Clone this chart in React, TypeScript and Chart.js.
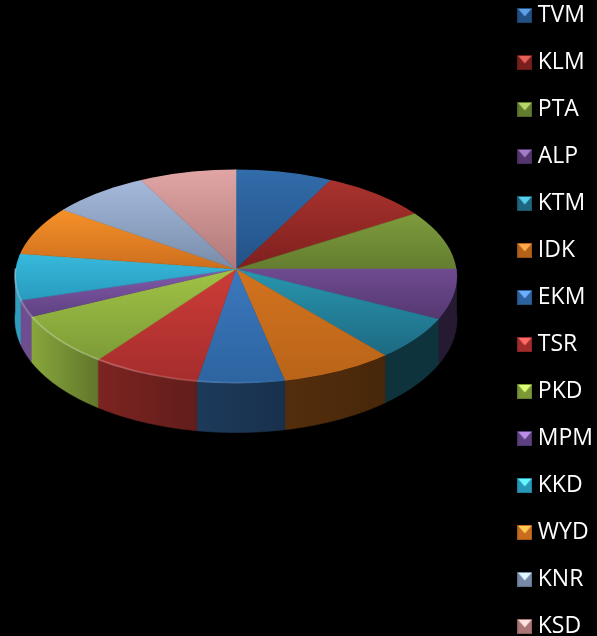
import React, { useEffect, useRef } from "react";
import { Chart, registerables } from "chart.js";

Chart.register(...registerables);

const categories = ["TVM", "KLM", "PTA", "ALP", "KTM", "IDK", "EKM", "TSR", "PKD", "MPM", "KKD", "WYD", "KNR", "KSD"];
const shares = [7.1, 8.3, 9.6, 7.2, 6.3, 8.0, 6.3, 7.7, 7.7, 2.4, 6.9, 7.9, 7.5, 7.1];

const lightColors = [
  [50, 108, 170], [170, 50, 45], [125, 155, 60], [110, 75, 145], [40, 150, 175], [210, 115, 30], [60, 120, 190],
  [205, 60, 55], [160, 195, 70], [130, 90, 170], [55, 185, 220], [245, 145, 40], [165, 185, 220], [225, 165, 165],
];
const darkColors = [
  [34, 82, 135], [125, 32, 30], [100, 125, 48], [85, 55, 112], [30, 105, 130], [185, 100, 25], [45, 100, 160],
  [165, 45, 45], [125, 155, 55], [95, 65, 130], [40, 155, 190], [205, 110, 30], [120, 140, 170], [175, 120, 120],
];
const sideStops = [[15, 0.85], [32, 0.85], [100, 0.6], [197, 0.48], [286, 0.4], [385, 0.34], [457, 0.34]];

// apex of the slices and the foreshortening either side of it
const CX = 236, CY = 269, RX = 221, RY_BACK = 99, RY_FRONT = 113;
// outline of the top face (the perspective ellipse sits lower than the apex)
const EY = 276.5, EX_R = 221, EY_R = 107;
const OVER = 1.1;
const DEPTH_SIDE = 42, DEPTH_FRONT = 49;
const W = 597, H = 700;

const rgb = (c: number[], f = 1, add = 0) =>
  `rgb(${c.map((v) => Math.min(255, Math.round(v * f + add))).join(",")})`;

const rimPoint = (a: number) => {
  const s = Math.sin(a);
  const dx = RX * Math.cos(a);
  const dy = (s > 0 ? RY_FRONT : RY_BACK) * s;
  const off = CY - EY;
  const A = (dx * dx) / (EX_R * EX_R) + (dy * dy) / (EY_R * EY_R);
  const B = (2 * dy * off) / (EY_R * EY_R);
  const C = (off * off) / (EY_R * EY_R) - 1;
  const t = (-B + Math.sqrt(B * B - 4 * A * C)) / (2 * A);
  return [CX + t * dx, CY + t * dy];
};
const depthAt = (a: number) => DEPTH_SIDE + (DEPTH_FRONT - DEPTH_SIDE) * Math.max(0, Math.sin(a));

function makeIcon(i: number) {
  const c = document.createElement("canvas");
  c.width = 15;
  c.height = 15;
  const g = c.getContext("2d")!;
  const l = lightColors[i], d = darkColors[i];
  g.fillStyle = rgb(d, 0.98);
  g.fillRect(0, 0, 15, 15);
  g.fillStyle = rgb(d, 0.8);
  g.fillRect(0, 0, 1, 15);
  g.fillRect(14, 0, 1, 15);
  g.fillRect(0, 14, 15, 1);
  g.fillStyle = rgb(l, 1.12, 40);
  g.beginPath();
  g.moveTo(1, 1);
  g.lineTo(14, 1);
  g.lineTo(7.5, 8.5);
  g.closePath();
  g.fill();
  return c;
}

const pie3d = {
  id: "pie3d",
  afterLayout(chart: any) {
    chart.legend.top = -20;
    chart.legend.left += 56;
    chart.legend.right += 56;
  },
  beforeDraw(chart: any) {
    const ctx = chart.ctx;
    ctx.save();
    ctx.fillStyle = "#000";
    ctx.fillRect(0, 0, W, H);
    ctx.restore();
  },
  beforeDatasetsDraw(chart: any) {
    const ctx: CanvasRenderingContext2D = chart.ctx;
    const arcs: any[] = chart.getDatasetMeta(0).data;

    // extruded wall
    arcs.forEach((el, i) => {
      const lo = Math.max(el.startAngle, 0);
      const hi = Math.min(el.endAngle, Math.PI);
      if (hi <= lo) return;
      const n = 40;
      const top: number[][] = [];
      for (let k = 0; k <= n; k++) top.push(rimPoint(lo + ((hi - lo) * k) / n));
      const grad = ctx.createLinearGradient(0, 0, W, 0);
      sideStops.forEach(([x, f]) => grad.addColorStop(x / W, rgb(lightColors[i], f)));
      ctx.beginPath();
      top.forEach((p, k) => (k ? ctx.lineTo(p[0], p[1]) : ctx.moveTo(p[0], p[1])));
      for (let k = n; k >= 0; k--) {
        const a = lo + ((hi - lo) * k) / n;
        const p = top[k];
        ctx.lineTo(p[0], p[1] + depthAt(a));
      }
      ctx.closePath();
      ctx.fillStyle = grad;
      ctx.strokeStyle = grad;
      ctx.lineWidth = 0.6;
      ctx.fill();
      ctx.stroke();
    });

    // top face, drawn by the library's arc elements in a flattened space
    const drawHalf = (clipY: number, clipH: number, ry: number) => {
      ctx.save();
      ctx.beginPath();
      ctx.rect(0, clipY, W, clipH);
      ctx.clip();
      ctx.beginPath();
      ctx.ellipse(CX, EY, EX_R, EY_R, 0, 0, Math.PI * 2);
      ctx.clip();
      arcs.forEach((el, i) => {
        const R = el.outerRadius;
        const k = (ry * OVER) / R;
        let y0 = CY, y1 = CY;
        for (let t = 0; t <= 40; t++) {
          const y = rimPoint(el.startAngle + ((el.endAngle - el.startAngle) * t) / 40)[1];
          y0 = Math.min(y0, y);
          y1 = Math.max(y1, y);
        }
        const toUser = (dy: number) => el.y + (dy - CY) / k;
        const grad = ctx.createLinearGradient(el.x, toUser(y0), el.x, toUser(y1));
        grad.addColorStop(0, rgb(lightColors[i]));
        grad.addColorStop(1, rgb(darkColors[i]));
        const saved = el.options;
        const o = Object.create(saved);
        o.backgroundColor = grad;
        o.borderColor = grad;
        o.borderWidth = 0.6;
        el.options = o;
        ctx.save();
        ctx.translate(CX, CY);
        ctx.scale((RX * OVER) / R, k);
        ctx.translate(-el.x, -el.y);
        el.draw(ctx);
        ctx.restore();
        el.options = saved;
      });
      ctx.restore();
    };
    drawHalf(0, CY + 0.5, RY_BACK);
    drawHalf(CY, H - CY, RY_FRONT);

    // glossy rim highlight along the front edge
    const shine = ctx.createLinearGradient(0, 0, W, 0);
    shine.addColorStop(0.02, "rgba(255,255,255,0.28)");
    shine.addColorStop(0.2, "rgba(255,255,255,0.2)");
    shine.addColorStop(0.4, "rgba(255,255,255,0.08)");
    shine.addColorStop(0.48, "rgba(255,255,255,0)");
    ctx.beginPath();
    for (let t = 0; t <= 120; t++) {
      const p = rimPoint((Math.PI * t) / 120);
      if (t) ctx.lineTo(p[0], p[1] - 0.8);
      else ctx.moveTo(p[0], p[1] - 0.8);
    }
    ctx.strokeStyle = shine;
    ctx.lineWidth = 2;
    ctx.stroke();
    return false;
  },
};

export default function App() {
  const ref = useRef<HTMLCanvasElement>(null);
  useEffect(() => {
    document.body.style.margin = "0";
    document.body.style.background = "#000";
    const icons = categories.map((_, i) => makeIcon(i));
    const chart = new Chart(ref.current!, {
      type: "pie",
      data: {
        labels: categories,
        datasets: [{ data: shares, backgroundColor: lightColors.map((c) => rgb(c)), borderWidth: 0 }],
      },
      options: {
        responsive: false,
        animation: false,
        events: [],
        layout: { padding: { left: 15, right: 50 } },
        plugins: {
          tooltip: { enabled: false },
          legend: {
            position: "right",
            align: "start",
            labels: {
              color: "#fff",
              font: { family: "'Open Sans'", size: 23, lineHeight: 1 },
              padding: 24,
              boxWidth: 3,
              boxHeight: 15,
              usePointStyle: true,
              pointStyleWidth: 3,
              generateLabels: () =>
                categories.map((text, i) => ({
                  text,
                  index: i,
                  hidden: false,
                  fontColor: "#fff",
                  fillStyle: rgb(lightColors[i]),
                  strokeStyle: "transparent",
                  lineWidth: 0,
                  pointStyle: icons[i],
                })),
            },
          },
        },
      },
      plugins: [pie3d],
    } as any);
    return () => chart.destroy();
  }, []);
  return (
    <div style={{ position: "fixed", left: 0, top: 0, width: 597, height: 636, overflow: "hidden", background: "#000" }}>
      <canvas ref={ref} width={W} height={H} style={{ display: "block" }} />
    </div>
  );
}
